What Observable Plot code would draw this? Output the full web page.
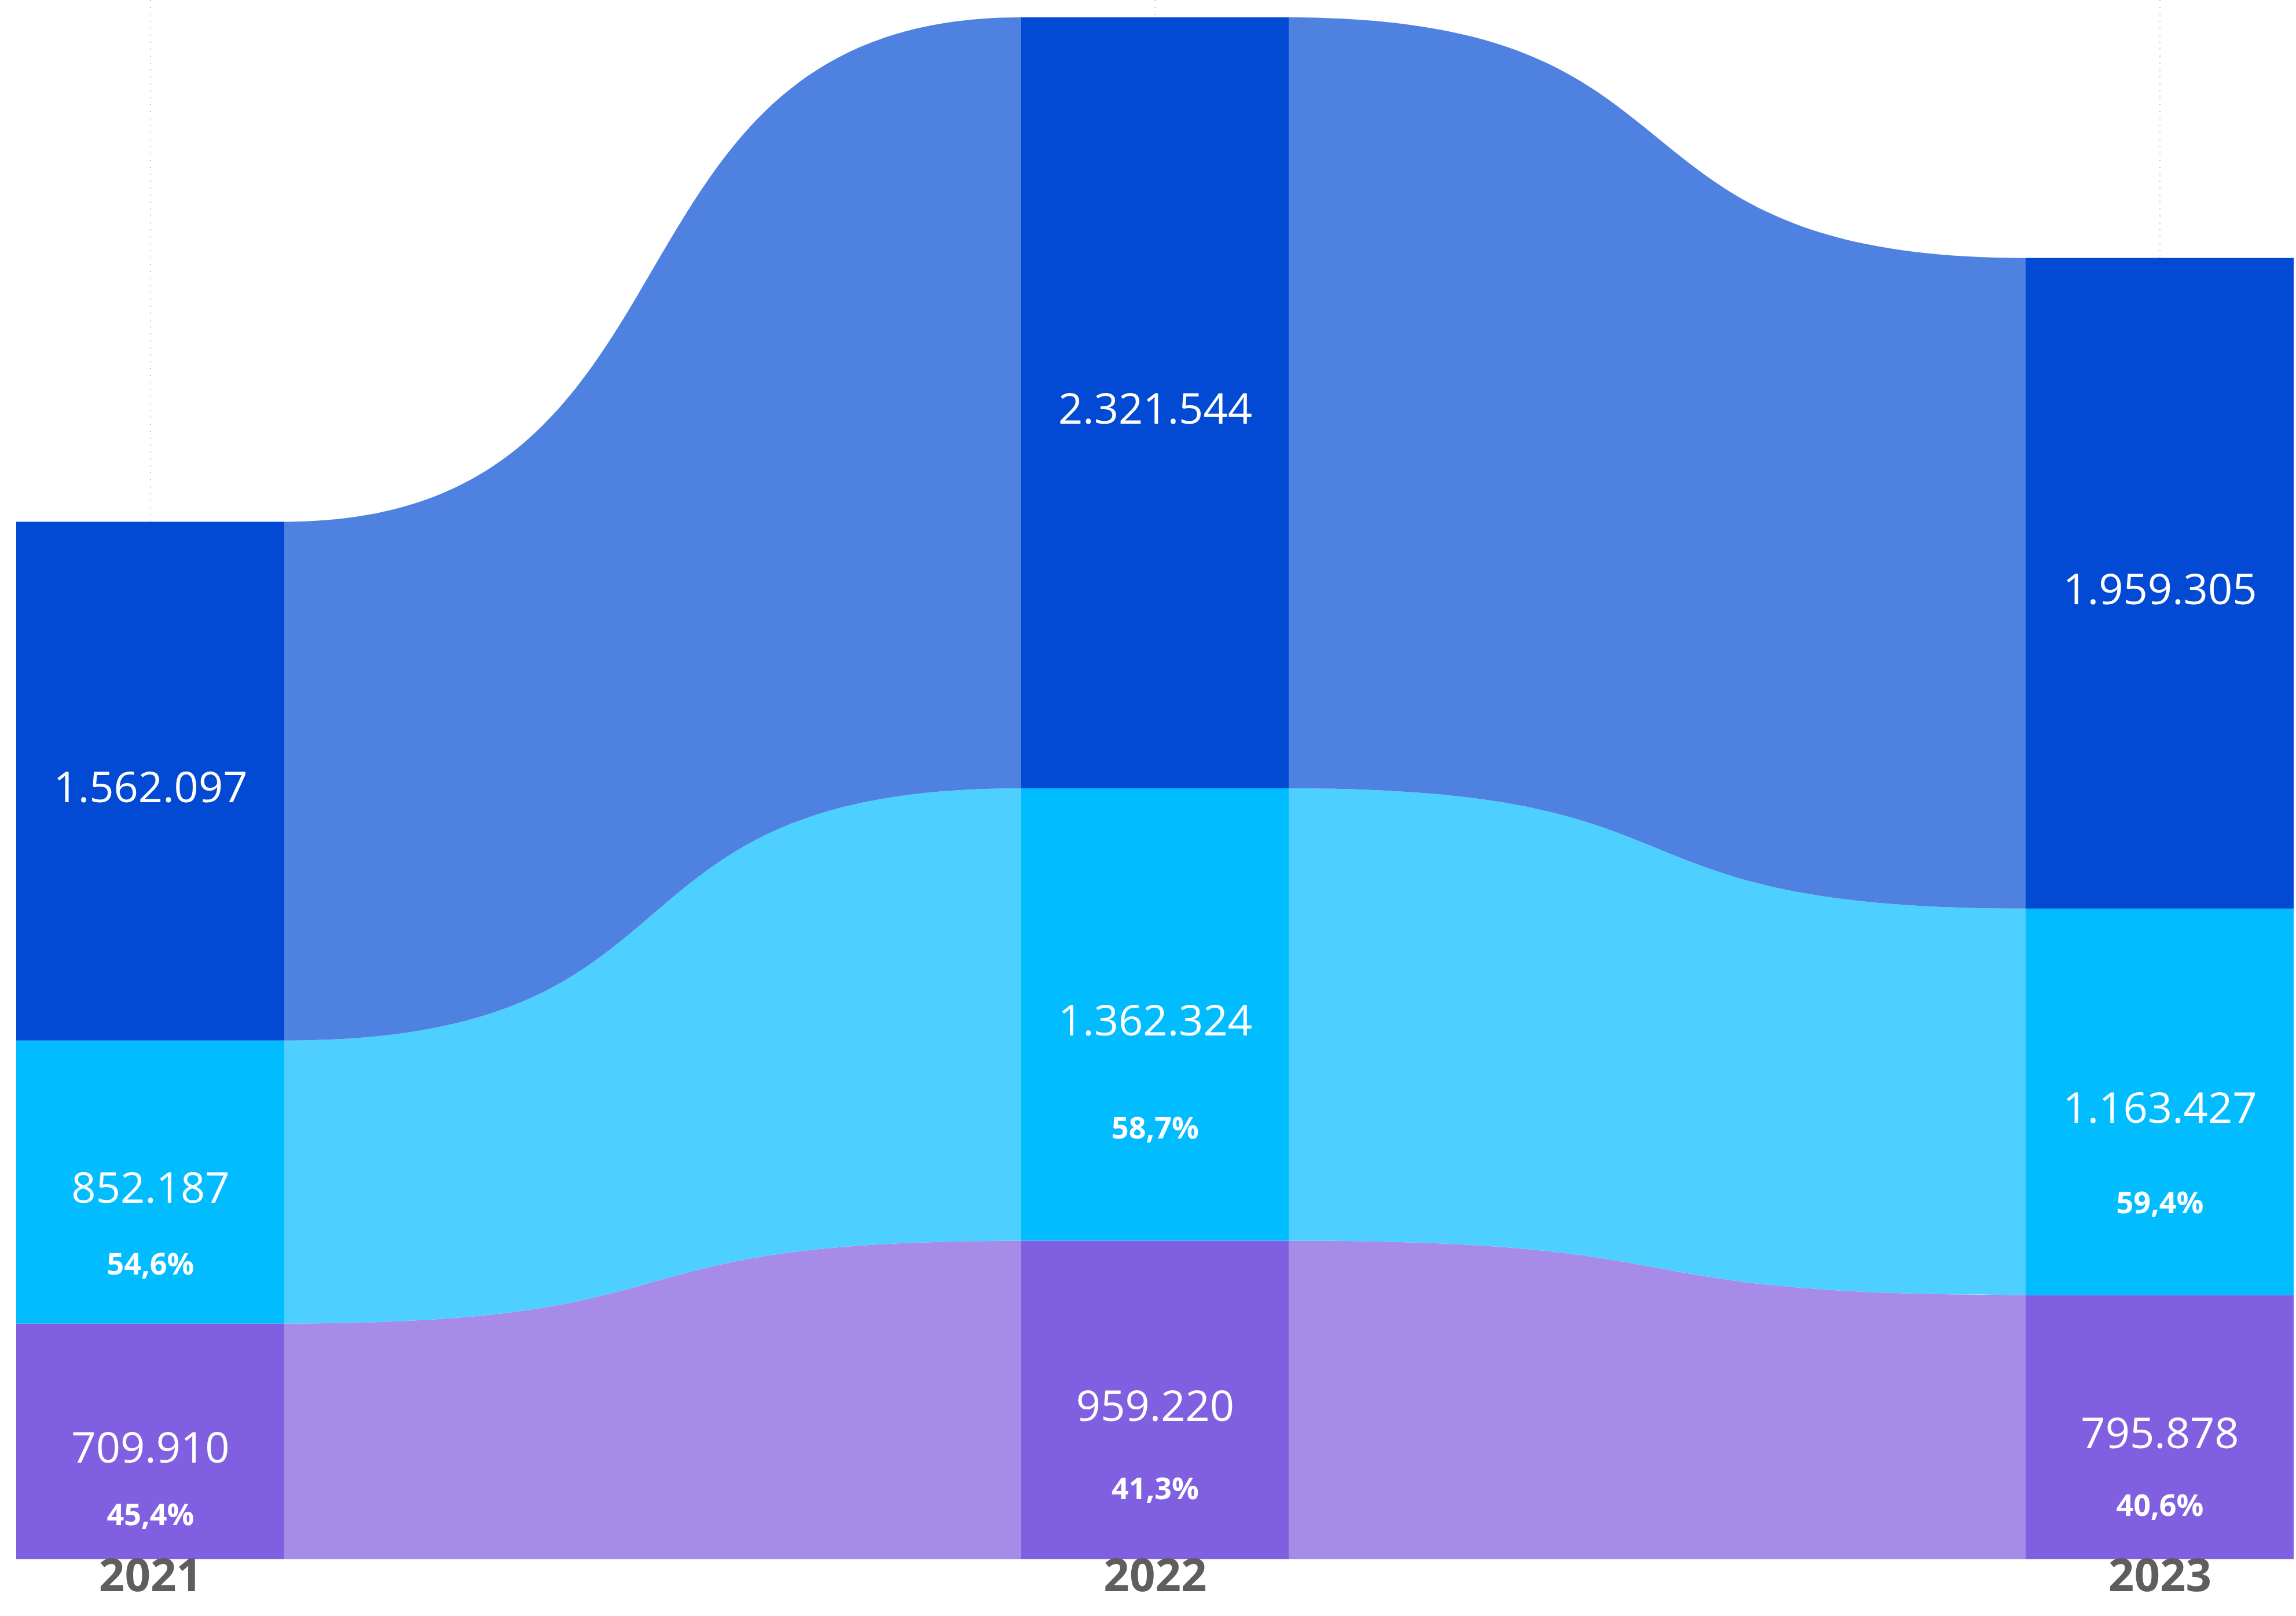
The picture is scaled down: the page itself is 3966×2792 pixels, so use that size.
<!DOCTYPE html>
<html>
<head>
<meta charset="utf-8">
<script src="https://cdn.jsdelivr.net/npm/d3@7"></script>
<script src="https://cdn.jsdelivr.net/npm/@observablehq/plot@0.6"></script>
<style>
  html, body { margin: 0; padding: 0; background: #fff; }
  #chart svg { display: block; }
</style>
</head>
<body>
<div id="chart"></div>
<script>
// ---- data (stack order: bottom → top) ----
const years = [2021, 2022, 2023];
const seriesNames = ["Grupo A", "Grupo B", "Total"];
const groupA = [709910, 959220, 795878];
const groupB = [852187, 1362324, 1163427];
const totals = [1562097, 2321544, 1959305];
const barColors = ["#8060E0", "#01BDFF", "#024AD4"];
const ribbonColors = ["#A68BE8", "#4DCFFF", "#4F81E0"];
const valuesBySeries = [groupA, groupB, totals];

const loc = d3.formatLocale({decimal: ",", thousands: ".", grouping: [3], currency: ["", ""]});
const fmtInt = loc.format(",d");
const fmtPct = loc.format(".1%");

// stacked rows
const rows = [];
years.forEach((year, i) => {
  let lower = 0;
  valuesBySeries.forEach((vals, s) => {
    const v = vals[i];
    rows.push({year, s, series: seriesNames[s], value: v, lower, upper: lower + v,
               share: s < 2 ? v / totals[i] : null});
    lower += v;
  });
});

// bar half-width in year units
const halfW = 0.1334;

// ribbons between consecutive years
const ribbons = [];
for (let i = 0; i < years.length - 1; i++) {
  for (let s = 0; s < valuesBySeries.length; s++) {
    const a = rows.find(d => d.year === years[i] && d.s === s);
    const b = rows.find(d => d.year === years[i + 1] && d.s === s);
    ribbons.push({seg: `${s}-${i}`, s, x: a.year + halfW, lower: a.lower, upper: a.upper});
    ribbons.push({seg: `${s}-${i}`, s, x: b.year - halfW, lower: b.lower, upper: b.upper});
  }
}

// S-shaped horizontal bezier curve (like bump-x, with steeper middle)
const K = 0.6;
class SigmoidX {
  constructor(ctx) { this._context = ctx; }
  areaStart() { this._line = 0; }
  areaEnd() { this._line = NaN; }
  lineStart() { this._point = 0; }
  lineEnd() {
    if (this._line || (this._line !== 0 && this._point === 1)) this._context.closePath();
    this._line = 1 - this._line;
  }
  point(x, y) {
    x = +x; y = +y;
    if (this._point === 0) {
      this._point = 1;
      if (this._line) this._context.lineTo(x, y); else this._context.moveTo(x, y);
    } else {
      const dx = x - this._x0;
      this._context.bezierCurveTo(this._x0 + K * dx, this._y0, x - K * dx, y, x, y);
    }
    this._x0 = x; this._y0 = y;
  }
}
const sigmoidX = ctx => new SigmoidX(ctx);

const font = "'Open Sans', 'Noto Sans', sans-serif";
const idx = [0, 1, 2];

const chart = Plot.plot({
  width: 3966,
  height: 2792,
  marginLeft: 28,
  marginRight: 4,
  marginTop: 30,
  marginBottom: 98,
  x: {domain: [years[0] - halfW, years[years.length - 1] + halfW], axis: null},
  y: {domain: [0, d3.max(rows, d => d.upper)], axis: null},
  marks: [
    Plot.ruleX(years, {x: d => d, stroke: "#c8c8c8", strokeWidth: 2, strokeDasharray: "2,10", insetTop: -30}),
    ...idx.map(s => Plot.area(ribbons.filter(d => d.s === s), {
      x1: "x", y1: "lower", y2: "upper", z: "seg", fill: ribbonColors[s], curve: sigmoidX
    })),
    ...idx.map(s => Plot.rect(rows.filter(d => d.s === s), {
      x1: d => d.year - halfW, x2: d => d.year + halfW, y1: "lower", y2: "upper", fill: barColors[s]
    })),
    Plot.text(rows, {
      x: "year", y: d => (d.lower + d.upper) / 2, text: d => fmtInt(d.value),
      fill: "white", fontSize: 74, fontWeight: 500, fontFamily: font, dy: 12
    }),
    Plot.text(rows.filter(d => d.share != null), {
      x: "year", y: d => d.lower + 0.315 * d.value, text: d => fmtPct(d.share),
      fill: "white", fontSize: 52, fontWeight: 700, fontFamily: font, dy: 52
    }),
    Plot.text(years, {
      x: d => d, text: d => String(d), frameAnchor: "bottom", dy: 54,
      fontSize: 78, fontWeight: 700, fill: "#605E5C", fontFamily: font
    })
  ]
});

document.getElementById("chart").appendChild(chart);
</script>
</body>
</html>
